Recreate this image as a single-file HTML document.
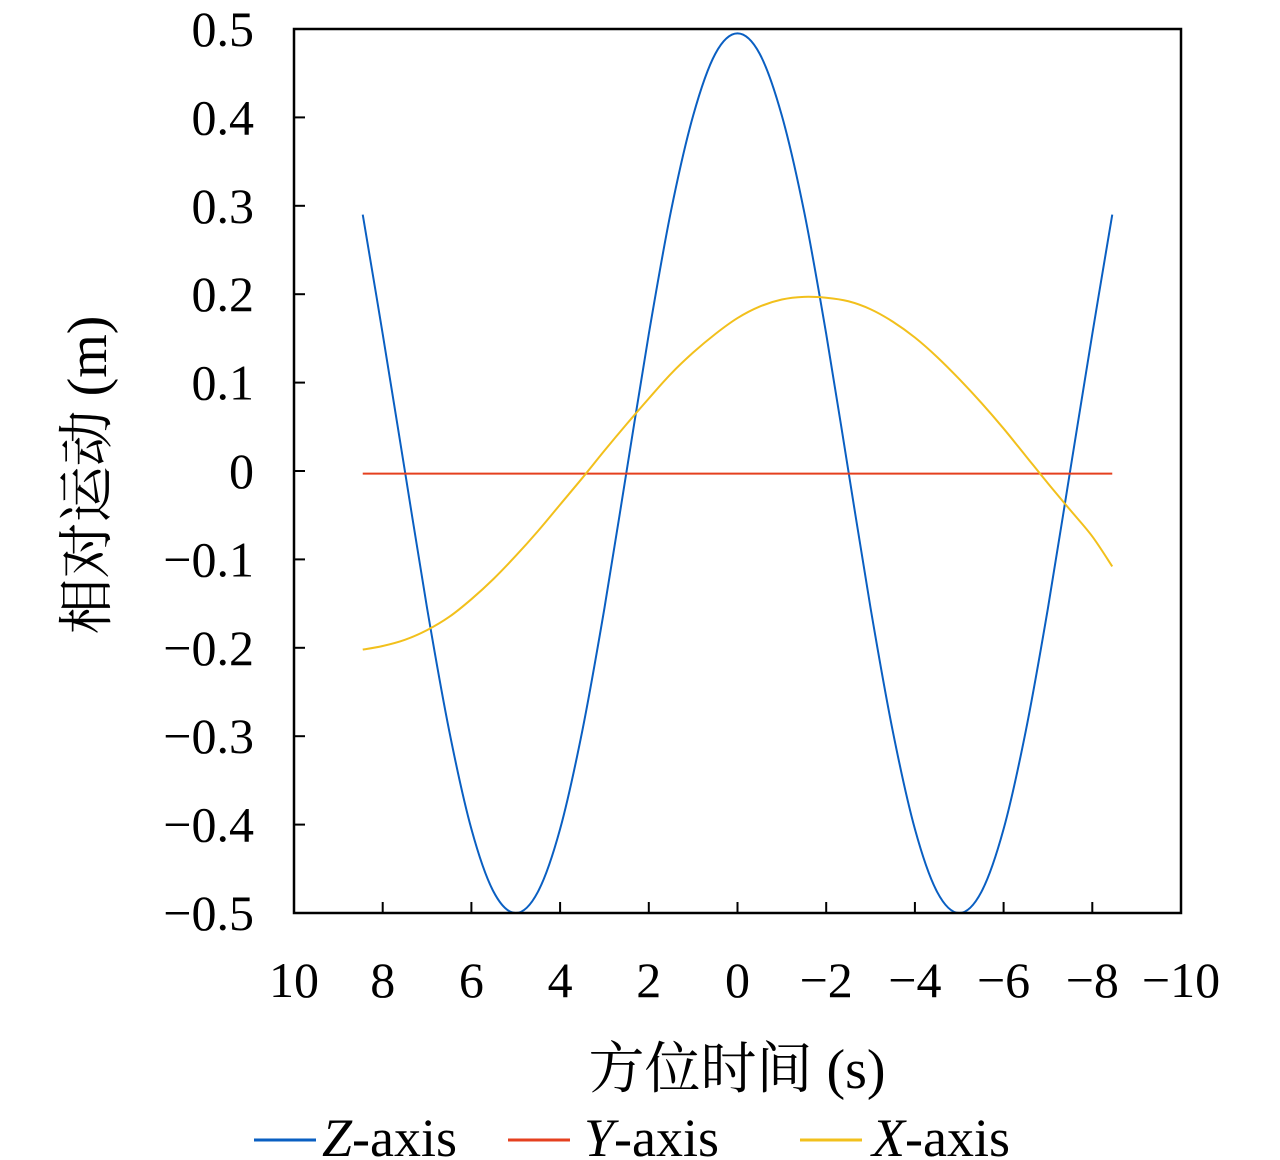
<!DOCTYPE html>
<html><head><meta charset="utf-8">
<style>
html,body{margin:0;padding:0;background:#fff;}
svg{display:block;}
text{font-family:"Liberation Serif","Noto Serif CJK SC",serif;fill:#000;}
</style></head>
<body>
<svg id="chart" width="1280" height="1160" viewBox="0 0 1280 1160"></svg>
<script>
const xTicks = [10, 8, 6, 4, 2, 0, -2, -4, -6, -8, -10];
const yTicks = [0.5, 0.4, 0.3, 0.2, 0.1, 0, -0.1, -0.2, -0.3, -0.4, -0.5];
const times = [8.45,8,7.5,7,6.5,6,5.5,5,4.5,4,3.5,3,2.5,2,1.5,1,0.5,0,-0.5,-1,-1.5,-2,-2.5,-3,-3.5,-4,-4.5,-5,-5.5,-6,-6.5,-7,-7.5,-8,-8.45];
const zValues = [0.290,0.155,0,-0.155,-0.294,-0.405,-0.476,-0.5,-0.476,-0.405,-0.294,-0.155,0,0.155,0.294,0.402,0.472,0.495,0.472,0.402,0.294,0.155,0,-0.155,-0.294,-0.405,-0.476,-0.5,-0.476,-0.405,-0.294,-0.155,0,0.155,0.290];
const yValues = times.map(() => -0.003);
const xValues = [-0.202,-0.198,-0.191,-0.180,-0.165,-0.145,-0.122,-0.096,-0.068,-0.038,-0.008,0.023,0.053,0.082,0.110,0.134,0.155,0.173,0.186,0.194,0.197,0.196,0.192,0.183,0.169,0.151,0.129,0.104,0.077,0.048,0.017,-0.014,-0.044,-0.074,-0.108];
const seriesNames = ["Z-axis","Y-axis","X-axis"];

const L=294,R=1181,T=29,B=913;
function sx(v){return L+(10-v)/20*(R-L);}
function sy(v){return T+(0.5-v)*(B-T);}
const NS="http://www.w3.org/2000/svg";
const svg=document.getElementById('chart');
function el(tag,attrs,parent){const e=document.createElementNS(NS,tag);for(const k in attrs)e.setAttribute(k,attrs[k]);(parent||svg).appendChild(e);return e;}
function fmt(v){let s=String(v);if(v<0)s="\u2212"+s.slice(1);return s;}

function smooth(xs,ys){
  const p=xs.map((x,i)=>[sx(x),sy(ys[i])]);
  let d="M"+p[0][0].toFixed(2)+","+p[0][1].toFixed(2);
  for(let i=0;i<p.length-1;i++){
    const p0=p[i-1]||p[i],p1=p[i],p2=p[i+1],p3=p[i+2]||p[i+1];
    const c1=[p1[0]+(p2[0]-p0[0])/6,p1[1]+(p2[1]-p0[1])/6];
    const c2=[p2[0]-(p3[0]-p1[0])/6,p2[1]-(p3[1]-p1[1])/6];
    d+=" C"+c1.map(n=>n.toFixed(2)).join(",")+" "+c2.map(n=>n.toFixed(2)).join(",")+" "+p2.map(n=>n.toFixed(2)).join(",");
  }
  return d;
}

const colors=["#0a5fc2","#e5401f","#f2c01c"];
const data=[zValues,yValues,xValues];
const sNames=["z-axis-line","y-axis-line","x-axis-line"];
data.forEach((vals,i)=>{
  const p=el('path',{d:smooth(times,vals),fill:'none',stroke:colors[i],'stroke-width':2});
  
  
});

const fr=el('rect',{x:L,y:T,width:R-L,height:B-T,fill:'none',stroke:'#000','stroke-width':2.5});



yTicks.forEach(v=>{
  const y=sy(v);
  const t=el('line',{x1:L,x2:L+11,y1:y,y2:y,stroke:'#000','stroke-width':2});
  
  
  const lb=el('text',{x:254,y:y+17,'text-anchor':'end','font-size':50});
  lb.textContent=fmt(v);
  
  
});
xTicks.forEach(v=>{
  const x=sx(v);
  const t=el('line',{x1:x,x2:x,y1:B,y2:B-11,stroke:'#000','stroke-width':2});
  
  
  const lb=el('text',{x:x,y:997,'text-anchor':'middle','font-size':50});
  lb.textContent=fmt(v);
  
  
});

const xt=el('text',{x:737,y:1088,'text-anchor':'middle','font-size':56});
xt.textContent="方位时间 (s)";


const yt=el('text',{x:0,y:0,'text-anchor':'middle','font-size':56,transform:'translate(106,475) rotate(-90)'});
yt.textContent="相对运动 (m)";



const legX=[[254,316,322],[508,570,584],[800,862,872]];
seriesNames.forEach((n,i)=>{
  const ln=el('line',{x1:legX[i][0],x2:legX[i][1],y1:1140,y2:1140,stroke:colors[i],'stroke-width':3});
  
  
  const tx=el('text',{x:legX[i][2],y:1156,'font-size':54});
  const it=el('tspan',{'font-style':'italic'},tx);
  it.textContent=n.split('-')[0];
  const rest=el('tspan',{},tx);
  rest.textContent="-axis";
  
  
});
</script>
</body></html>
